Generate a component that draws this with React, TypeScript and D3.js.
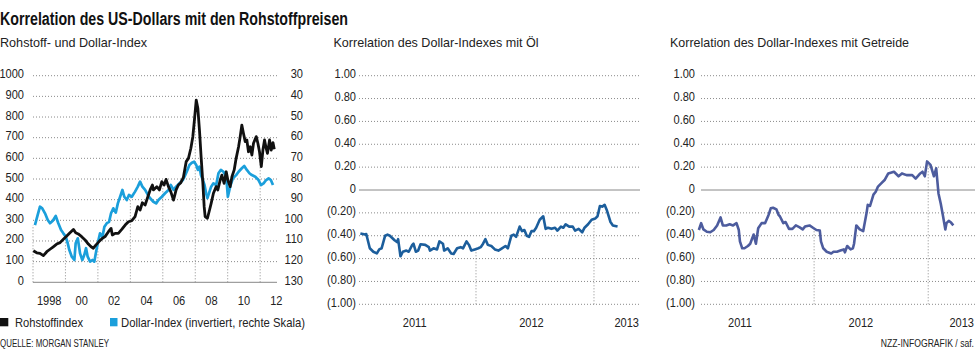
import React from "react";
import * as d3 from "d3";

// ---------- DATA ----------
const commodityIndex: [number, number][] = [
  [1998.02,153],[1998.23,143],[1998.43,140],[1998.64,129],[1998.85,148],[1999.05,160],[1999.25,172],[1999.46,185],[1999.67,192],[1999.87,208],
  [2000.08,224],[2000.28,240],[2000.49,256],[2000.63,240],[2000.79,234],[2001.0,221],[2001.21,205],[2001.41,185],[2001.58,172],[2001.72,165],
  [2001.87,180],[2002.07,197],[2002.28,213],[2002.44,221],[2002.65,245],[2002.81,261],[2002.89,229],[2003.06,237],[2003.26,237],[2003.47,256],
  [2003.68,277],[2003.88,293],[2004.09,298],[2004.29,318],[2004.46,366],[2004.6,350],[2004.74,385],[2004.91,374],[2005.08,414],[2005.22,447],
  [2005.36,471],[2005.42,447],[2005.63,463],[2005.79,447],[2005.94,487],[2006.08,471],[2006.2,498],[2006.35,463],[2006.49,439],[2006.66,398],
  [2006.82,447],[2006.96,471],[2007.11,482],[2007.27,508],[2007.44,584],[2007.58,600],[2007.73,649],[2007.85,705],[2007.95,786],[2008.06,882],
  [2008.16,842],[2008.26,737],[2008.36,608],[2008.47,479],[2008.55,366],[2008.61,318],[2008.75,310],[2008.88,350],[2008.98,382],[2009.12,431],
  [2009.29,463],[2009.39,447],[2009.54,495],[2009.64,519],[2009.78,479],[2009.91,535],[2010.01,495],[2010.15,463],[2010.26,511],[2010.4,544],
  [2010.52,600],[2010.67,656],[2010.77,705],[2010.87,761],[2010.97,721],[2011.08,681],[2011.18,689],[2011.28,632],[2011.39,656],[2011.49,616],
  [2011.59,673],[2011.76,705],[2011.86,673],[2011.96,632],[2012.07,560],[2012.17,640],[2012.27,689],[2012.37,649],[2012.45,624],[2012.58,689],
  [2012.68,640],[2012.79,676],[2012.87,644]
];

const dollarIndex: [number, number][] = [
  [1998.12,102.3],[1998.29,97.4],[1998.43,93.4],[1998.57,94.2],[1998.74,96.6],[1998.91,99.8],[1999.05,101.4],[1999.22,100.2],[1999.4,97.9],[1999.56,101.4],
  [1999.73,104.7],[1999.87,106.3],[2000.02,107.9],[2000.14,111.1],[2000.24,114.4],[2000.39,117.6],[2000.55,119.2],[2000.63,111.1],[2000.76,108.7],[2000.9,116],
  [2001.04,119.2],[2001.16,116.8],[2001.27,113.5],[2001.37,117.6],[2001.52,120],[2001.66,119.2],[2001.78,120],[2001.87,116],[2001.99,111.1],[2002.13,106.3],
  [2002.28,107.9],[2002.4,103.1],[2002.55,101.4],[2002.69,100.7],[2002.81,96.6],[2002.95,94.2],[2003.1,96.3],[2003.23,91.8],[2003.37,88.6],[2003.51,85.3],
  [2003.63,88.6],[2003.78,90.2],[2003.92,87.7],[2004.09,88.6],[2004.29,86.1],[2004.46,83.7],[2004.6,81.3],[2004.74,83.7],[2004.91,85.3],[2005.08,87.7],
  [2005.22,89.3],[2005.42,91],[2005.59,91.8],[2005.73,90.2],[2005.94,88.6],[2006.14,86.9],[2006.35,85.3],[2006.49,82.9],[2006.66,85.3],[2006.82,83.7],
  [2007.03,82.1],[2007.24,80.5],[2007.38,78.1],[2007.52,75.6],[2007.64,73.2],[2007.79,72.1],[2007.93,71.6],[2008.06,73.2],[2008.16,75.6],[2008.26,74],
  [2008.35,78.1],[2008.47,80.5],[2008.57,82.9],[2008.67,86.9],[2008.75,89.3],[2008.88,86.1],[2008.98,83.7],[2009.12,82.1],[2009.29,82.9],[2009.43,77.2],
  [2009.58,75.6],[2009.74,76.5],[2009.91,78.9],[2010.01,88.6],[2010.15,83.7],[2010.32,79.7],[2010.52,78.1],[2010.67,76.5],[2010.87,74.8],[2011.02,73.7],
  [2011.18,75.6],[2011.34,77.2],[2011.49,78.1],[2011.7,78.9],[2011.9,80.5],[2012.05,82.9],[2012.21,82.1],[2012.37,80.5],[2012.52,79.7],[2012.66,80.5],
  [2012.79,82.9]
];

const oilCorrelation: [number, number][] = [
  [2011.02,-0.38],[2011.06,-0.39],[2011.07,-0.385],[2011.1,-0.51],[2011.13,-0.54],[2011.16,-0.555],[2011.18,-0.52],[2011.2,-0.51],[2011.23,-0.4],[2011.25,-0.39],
  [2011.27,-0.4],[2011.31,-0.44],[2011.33,-0.455],[2011.34,-0.43],[2011.36,-0.58],[2011.38,-0.54],[2011.41,-0.53],[2011.43,-0.54],[2011.46,-0.48],[2011.47,-0.47],
  [2011.49,-0.54],[2011.51,-0.53],[2011.53,-0.475],[2011.57,-0.48],[2011.6,-0.5],[2011.61,-0.53],[2011.64,-0.51],[2011.67,-0.52],[2011.69,-0.45],[2011.72,-0.47],
  [2011.73,-0.53],[2011.76,-0.51],[2011.79,-0.555],[2011.81,-0.56],[2011.84,-0.51],[2011.87,-0.5],[2011.89,-0.51],[2011.92,-0.45],[2011.94,-0.48],[2011.96,-0.53],
  [2011.99,-0.52],[2012.02,-0.51],[2012.04,-0.5],[2012.06,-0.47],[2012.08,-0.43],[2012.1,-0.48],[2012.13,-0.49],[2012.16,-0.52],[2012.19,-0.53],[2012.22,-0.51],
  [2012.25,-0.49],[2012.27,-0.51],[2012.3,-0.4],[2012.32,-0.39],[2012.34,-0.41],[2012.37,-0.32],[2012.39,-0.36],[2012.41,-0.35],[2012.43,-0.4],[2012.45,-0.41],
  [2012.47,-0.36],[2012.49,-0.36],[2012.51,-0.33],[2012.54,-0.26],[2012.57,-0.23],[2012.59,-0.34],[2012.61,-0.33],[2012.64,-0.34],[2012.67,-0.33],[2012.69,-0.355],
  [2012.72,-0.32],[2012.74,-0.33],[2012.76,-0.3],[2012.79,-0.32],[2012.82,-0.32],[2012.84,-0.355],[2012.87,-0.34],[2012.9,-0.37],[2012.92,-0.33],[2012.95,-0.3],
  [2012.98,-0.26],[2013.01,-0.25],[2013.03,-0.23],[2013.05,-0.14],[2013.07,-0.145],[2013.09,-0.13],[2013.11,-0.18],[2013.14,-0.28],[2013.16,-0.31],[2013.2,-0.32]
];

const grainCorrelation: [number, number][] = [
  [2010.99,-0.35],[2011.01,-0.29],[2011.03,-0.345],[2011.06,-0.365],[2011.09,-0.37],[2011.12,-0.35],[2011.15,-0.31],[2011.18,-0.24],[2011.2,-0.31],[2011.23,-0.31],
  [2011.26,-0.3],[2011.29,-0.31],[2011.32,-0.29],[2011.34,-0.35],[2011.35,-0.45],[2011.37,-0.51],[2011.39,-0.51],[2011.42,-0.49],[2011.44,-0.47],[2011.47,-0.39],
  [2011.49,-0.47],[2011.51,-0.335],[2011.54,-0.29],[2011.57,-0.29],[2011.6,-0.22],[2011.62,-0.16],[2011.64,-0.155],[2011.67,-0.17],[2011.69,-0.22],[2011.7,-0.23],
  [2011.73,-0.29],[2011.75,-0.28],[2011.78,-0.34],[2011.81,-0.34],[2011.84,-0.31],[2011.87,-0.325],[2011.9,-0.345],[2011.92,-0.32],[2011.96,-0.31],[2011.99,-0.33],
  [2012.02,-0.35],[2012.05,-0.355],[2012.06,-0.45],[2012.08,-0.51],[2012.11,-0.54],[2012.15,-0.555],[2012.17,-0.54],[2012.2,-0.54],[2012.23,-0.53],[2012.26,-0.52],
  [2012.27,-0.545],[2012.29,-0.49],[2012.32,-0.52],[2012.34,-0.51],[2012.35,-0.47],[2012.37,-0.31],[2012.4,-0.345],[2012.43,-0.36],[2012.46,-0.2],[2012.47,-0.13],
  [2012.49,-0.14],[2012.52,-0.04],[2012.54,-0.015],[2012.56,0.03],[2012.59,0.06],[2012.62,0.09],[2012.65,0.145],[2012.7,0.16],[2012.74,0.12],[2012.77,0.145],
  [2012.81,0.13],[2012.86,0.13],[2012.89,0.1],[2012.93,0.145],[2012.95,0.16],[2012.97,0.12],[2012.99,0.25],[2013.02,0.22],[2013.05,0.12],[2013.07,0.19],
  [2013.09,-0.03],[2013.11,-0.12],[2013.13,-0.23],[2013.15,-0.345],[2013.16,-0.29],[2013.18,-0.27],[2013.2,-0.285],[2013.22,-0.31]
];

const commodityTicks = [0, 100, 200, 300, 400, 500, 600, 700, 800, 900, 1000];
const dollarTicks = [30, 40, 50, 60, 70, 80, 90, 100, 110, 120, 130];
const gridYears = [1998, 2000, 2002, 2004, 2006, 2008, 2010, 2012];
const yearLabels = ["1998", "00", "02", "04", "06", "08", "10", "12"];
const corrTicks = [1, 0.8, 0.6, 0.4, 0.2, 0, -0.2, -0.4, -0.6, -0.8, -1];
const corrGridYears = [2012, 2013];
const corrYearLabels = ["2011", "2012", "2013"];

// ---------- STYLE ----------
const FONT = "'Liberation Sans', Arial, sans-serif";
const TEXT = "#222";
const GRID = "#8a8a8a";
const BLACK = "#111";
const CYAN = "#1b9fdb";
const OIL = "#1c5e9c";
const GRAIN = "#4d5c9e";
const NARROW = 0.82;

function interp(data: [number, number][], t: number) {
  const i = d3.bisector((d: [number, number]) => d[0]).left(data, t);
  if (i <= 0) return data[0][1];
  if (i >= data.length) return data[data.length - 1][1];
  const a = data[i - 1], b = data[i];
  return a[1] + (b[1] - a[1]) * (t - a[0]) / (b[0] - a[0]);
}

function fmtCorr(v: number) {
  if (v === 0) return "0";
  const s = Math.abs(v).toFixed(2);
  return v < 0 ? `(${s})` : s;
}

function T(props: { x: number; y: number; anchor?: string; size?: number; children: React.ReactNode }) {
  const { x, y, anchor = "start", size = 13.5, children } = props;
  return (
    <text transform={`translate(${x},${y}) scale(${NARROW},1)`} textAnchor={anchor as any} fontSize={size} fill={TEXT}>
      {children}
    </text>
  );
}

function LeftChart() {
  const x = d3.scaleLinear().domain([1998, 2013.1]).range([33, 278]);
  const yL = d3.scaleLinear().domain([0, 1000]).range([282.3, 75.7]);
  const yR = d3.scaleLinear().domain([30, 130]).range([75.7, 282.3]);
  const lineC = d3.line<[number, number]>().x(d => x(d[0])).y(d => yL(d[1]));
  const lineD = d3.line<[number, number]>().x(d => x(d[0])).y(d => yR(d[1]));
  return (
    <g>
      {commodityTicks.map((t, i) => (
        <g key={t}>
          {t === 0 ? (
            <line x1={33} x2={277} y1={yL(t)} y2={yL(t)} stroke="#888" strokeWidth={1} />
          ) : (
            <line x1={33} x2={278} y1={yL(t)} y2={yL(t)} stroke={GRID} strokeWidth={1} strokeDasharray="1,2" />
          )}
          <T x={24} y={yL(t) + 2.5} anchor="end">{t}</T>
          <T x={303} y={yR(dollarTicks[i]) + 2.5} anchor="end">{dollarTicks[i]}</T>
        </g>
      ))}
      {gridYears.map((yr, i) => {
        const top = Math.min(yL(interp(commodityIndex, yr)), yR(interp(dollarIndex, yr)));
        return (
          <g key={yr}>
            <line x1={x(yr)} x2={x(yr)} y1={yL(0)} y2={top} stroke={GRID} strokeWidth={1} strokeDasharray="1,2" />
            <T x={x(yr + 1)} y={305} anchor="middle">{yearLabels[i]}</T>
          </g>
        );
      })}
      <path d={lineD(dollarIndex) || ""} fill="none" stroke={CYAN} strokeWidth={2.7} strokeLinejoin="round" />
      <path d={lineC(commodityIndex) || ""} fill="none" stroke={BLACK} strokeWidth={2.8} strokeLinejoin="round" />
    </g>
  );
}

function CorrChart(props: {
  data: [number, number][]; color: string; x0: number; x1: number; domainEnd: number;
  labelX: number; labelPos: number[];
}) {
  const { data, color, x0, x1, domainEnd, labelX, labelPos } = props;
  const x = d3.scaleLinear().domain([2011, domainEnd]).range([x0, x1]);
  const y = d3.scaleLinear().domain([-1, 1]).range([304.3, 75.7]);
  const line = d3.line<[number, number]>().x(d => x(d[0])).y(d => y(d[1]));
  return (
    <g>
      {corrTicks.map(t => (
        <g key={t}>
          {t === 0 ? (
            <line x1={x0 + 1} x2={x1} y1={y(t)} y2={y(t)} stroke="#888" strokeWidth={1} />
          ) : (
            <line x1={x0 + 1} x2={x1} y1={y(t)} y2={y(t)} stroke={GRID} strokeWidth={1} strokeDasharray="1,2" />
          )}
          <T x={labelX} y={y(t) + 2.5} anchor="end">{fmtCorr(t)}</T>
        </g>
      ))}
      {corrGridYears.map(yr => (
        <line key={yr} x1={x(yr)} x2={x(yr)} y1={y(-1)} y2={y(interp(data, yr))} stroke={GRID} strokeWidth={1} strokeDasharray="1,2" />
      ))}
      {corrYearLabels.map((lab, i) =>
        i < labelPos.length ? (
          <T key={lab} x={x(labelPos[i])} y={326.5} anchor="middle">{lab}</T>
        ) : (
          <T key={lab} x={x1 - 1} y={326.5} anchor="end">{lab}</T>
        )
      )}
      <path d={line(data) || ""} fill="none" stroke={color} strokeWidth={2.6} strokeLinejoin="round" />
    </g>
  );
}

export default function App() {
  return (
    <svg width={975} height={355} viewBox="0 0 975 355"
      style={{ position: "absolute", left: 0, top: 0, background: "#fff" }}
      fontFamily={FONT}>
      <rect x={0} y={0} width={975} height={355} fill="#fff" />
      <text x={0} y={25} fontSize={17.5} fontWeight="bold" fill="#111" textLength={348} lengthAdjust="spacingAndGlyphs">
        Korrelation des US-Dollars mit den Rohstoffpreisen
      </text>
      <text x={0} y={46.7} fontSize={13.5} fill={TEXT} textLength={147} lengthAdjust="spacingAndGlyphs">Rohstoff- und Dollar-Index</text>
      <text x={333.5} y={47.3} fontSize={13.5} fill={TEXT} textLength={205} lengthAdjust="spacingAndGlyphs">Korrelation des Dollar-Indexes mit Öl</text>
      <text x={670} y={47.3} fontSize={13.5} fill={TEXT} textLength={239} lengthAdjust="spacingAndGlyphs">Korrelation des Dollar-Indexes mit Getreide</text>

      <LeftChart />
      <CorrChart data={oilCorrelation} color={OIL} x0={358} x1={640} domainEnd={2013.39} labelX={356} labelPos={[2011.48, 2012.47]} />
      <CorrChart data={grainCorrelation} color={GRAIN} x0={700} x1={975} domainEnd={2013.41} labelX={695} labelPos={[2011.35, 2012.41]} />

      <rect x={0} y={318} width={8.3} height={8.3} fill={BLACK} />
      <text x={15} y={326.5} fontSize={13.5} fill={TEXT} textLength={68} lengthAdjust="spacingAndGlyphs">Rohstoffindex</text>
      <rect x={110} y={318} width={7.5} height={8.3} fill={CYAN} />
      <text x={121} y={326.5} fontSize={13.5} fill={TEXT} textLength={184} lengthAdjust="spacingAndGlyphs">Dollar-Index (invertiert, rechte Skala)</text>

      <text x={0} y={346.5} fontSize={10} fill={TEXT} textLength={109} lengthAdjust="spacingAndGlyphs">QUELLE: MORGAN STANLEY</text>
      <T x={974} y={346.5} anchor="end" size={10.5}>NZZ-INFOGRAFIK / saf.</T>
    </svg>
  );
}
